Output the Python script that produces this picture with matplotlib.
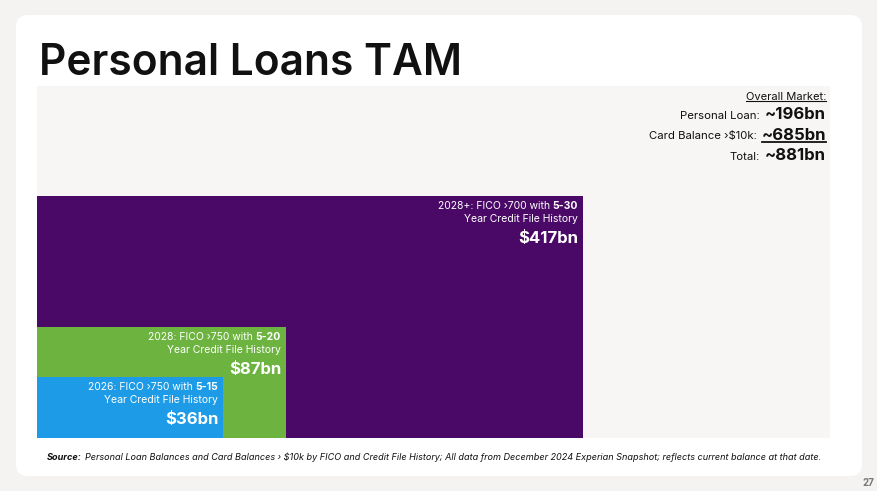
import matplotlib.pyplot as plt
from matplotlib.patches import FancyBboxPatch, Rectangle
from matplotlib.lines import Line2D
import numpy as np

plt.rcParams['font.family'] = ['Inter', 'DejaVu Sans']

# data
total_value = 881
seg_values = [417, 87, 36]
seg_line1 = ['2028+: FICO \u203a700 with ', '2028: FICO \u203a750 with ', '2026: FICO \u203a750 with ']
seg_line1_bold = ['5-30', '5-20', '5-15']
seg_line2 = ['Year Credit File History'] * 3
seg_amounts = ['$417bn', '$87bn', '$36bn']
market_labels = ['Personal Loan:', 'Card Balance \u203a$10k:', 'Total:']
market_values = ['~196bn', '~685bn', '~881bn']

seg_colors = ['#4a0966', '#6db33f', '#1d9be6']
box_aspect = [2.256, 2.25, 3.04]   # width / height of each box

W, H = 877, 491
fig = plt.figure(figsize=(W / 100, H / 100), dpi=100)
fig.patch.set_facecolor('#f4f3f1')


def fx(x):
    return x / W


def fy(y):
    return 1 - y / H


# white card
card = FancyBboxPatch((16, 15), 846, 461, boxstyle='round,pad=0,rounding_size=12',
                      transform=None, facecolor='white', edgecolor='none', zorder=-5)
fig.patches.append(card)

fig.text(fx(39), fy(75), 'Personal Loans TAM', fontsize=30.5, weight='semibold',
         color='#111111', va='baseline')

# treemap area
ax = fig.add_axes([fx(37), fy(438), fx(830) - fx(37), fy(86) - fy(438)])
ax.set_zorder(1)
ax_ratio = (830 - 37) / (438 - 86)
tw = np.sqrt(total_value * ax_ratio)
th = total_value / tw
ax.add_patch(Rectangle((0, 0), tw, th, facecolor='#f7f6f4', edgecolor='none'))
ax.set_xlim(0, tw)
ax.set_ylim(0, th)
ax.axis('off')

fig.canvas.draw()
renderer = fig.canvas.get_renderer()

for v, a, c, l1, l1b, l2, amt in zip(seg_values, box_aspect, seg_colors, seg_line1,
                                     seg_line1_bold, seg_line2, seg_amounts):
    bw = np.sqrt(v * a)
    bh = v / bw
    ax.add_patch(Rectangle((0, 0), bw, bh, facecolor=c, edgecolor='none'))
    tb = ax.annotate(l1b, xy=(bw, bh), xytext=(-5, -13), textcoords='offset pixels',
                     ha='right', va='baseline', fontsize=7.5, weight='bold', color='white')
    bwid = tb.get_window_extent(renderer).width
    ax.annotate(l1, xy=(bw, bh), xytext=(-5 - bwid, -13), textcoords='offset pixels',
                ha='right', va='baseline', fontsize=7.5, color='white')
    ax.annotate(l2, xy=(bw, bh), xytext=(-5, -26), textcoords='offset pixels',
                ha='right', va='baseline', fontsize=7.5, color='white')
    ax.annotate(amt, xy=(bw, bh), xytext=(-5, -47), textcoords='offset pixels',
                ha='right', va='baseline', fontsize=12, weight='bold', color='white')

# overall market block
t = fig.text(fx(826), fy(100), 'Overall Market:', ha='right', va='baseline',
             fontsize=8, color='#111111', zorder=3)
e = t.get_window_extent(renderer)
fig.lines.append(Line2D([e.x0, e.x1], [e.y0 + 1, e.y0 + 1], transform=None,
                        color='#111111', lw=0.8, zorder=3))
for i, (lab, val) in enumerate(zip(market_labels, market_values)):
    yb = fy(119 + 20.5 * i)
    tv = fig.text(fx(826), yb, val, ha='right', va='baseline', fontsize=12,
                  weight='bold', color='#111111', zorder=3)
    ev = tv.get_window_extent(renderer)
    fig.text(fx(826) - (ev.width + 5) / W, yb, lab, ha='right', va='baseline',
             fontsize=8.2, color='#111111', zorder=3)
    if i == 1:
        fig.lines.append(Line2D([ev.x0, ev.x1], [ev.y0 + 0.5, ev.y0 + 0.5],
                                transform=None, color='#111111', lw=1.3, zorder=3))

# source note
ts = fig.text(fx(47), fy(460), 'Source:', ha='left', va='baseline', fontsize=6.55,
              weight='bold', style='italic', color='#111111')
es = ts.get_window_extent(renderer)
fig.text(fx(47) + (es.width + 3) / W, fy(460),
         'Personal Loan Balances and Card Balances \u203a $10k by FICO and Credit File History; '
         'All data from December 2024 Experian Snapshot; reflects current balance at that date.',
         ha='left', va='baseline', fontsize=6.55, style='italic', color='#111111')

fig.text(fx(874), fy(486), '27', ha='right', va='baseline', fontsize=7, weight='bold',
         color='#777777')

fig.savefig('out.png', dpi=100, facecolor=fig.get_facecolor())
